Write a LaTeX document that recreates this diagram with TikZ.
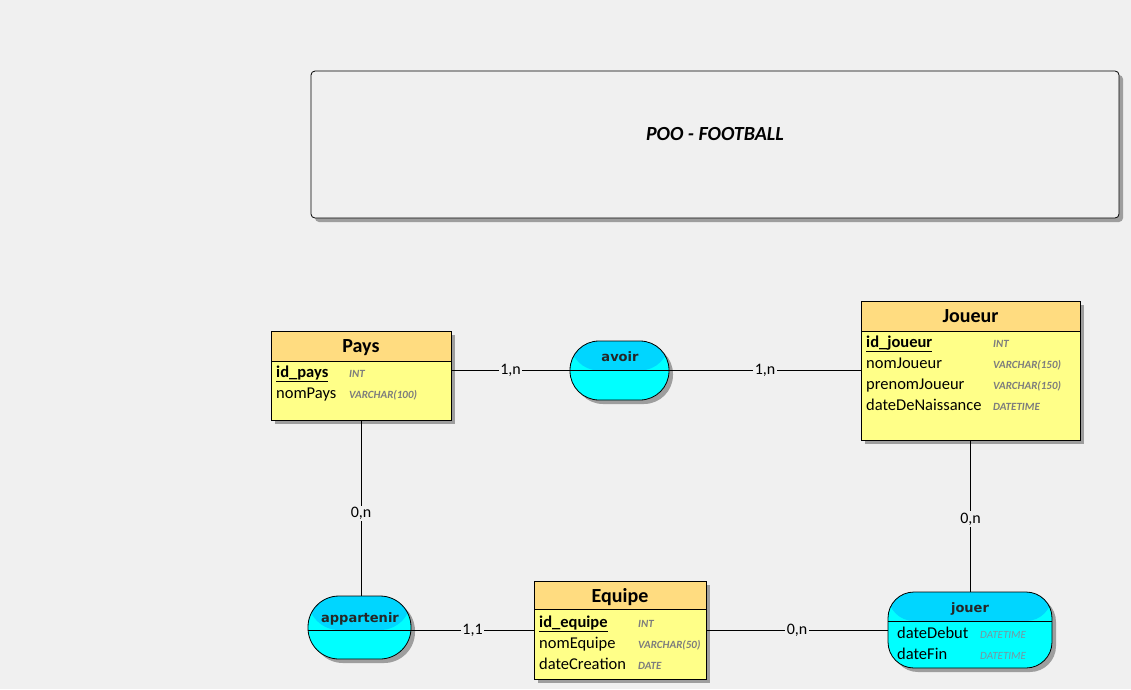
\documentclass[tikz,border=0pt]{standalone}
\usepackage{fontspec}
\setmainfont{Carlito}
\newfontfamily\assocfont{DejaVu Sans}
\usetikzlibrary{shadows}
\definecolor{fond}{RGB}{240,240,240}
\definecolor{enthead}{RGB}{255,220,128}
\definecolor{entbody}{RGB}{255,255,136}
\definecolor{assochead}{RGB}{0,214,255}
\definecolor{assocbody}{RGB}{0,255,255}
\definecolor{typegris}{RGB}{125,125,125}
\definecolor{typeclair}{RGB}{120,150,160}
\tikzset{
  ombre/.style={drop shadow={shadow xshift=4pt,shadow yshift=-4pt,fill=black!38,opacity=1}},
  entite/.style={draw, line width=0.8pt, fill=entbody, ombre, inner sep=0pt,
    path picture={
      \fill[enthead] (path picture bounding box.north west) rectangle ([yshift=-#1]path picture bounding box.north east);
      \draw[line width=0.8pt] ([yshift=-#1]path picture bounding box.north west) -- ([yshift=-#1]path picture bounding box.north east);}},
  assoc/.style={draw, line width=0.8pt, fill=assocbody, ombre, inner sep=0pt,
    path picture={
      \fill[assochead] (path picture bounding box.north west) rectangle ([yshift=#1]path picture bounding box.east);
      \draw[line width=0.8pt] ([yshift=#1]path picture bounding box.west) -- ([yshift=#1]path picture bounding box.east);}},
  entnom/.style={anchor=base, inner sep=0pt, font=\fontsize{20}{22}\selectfont\bfseries},
  assocnom/.style={anchor=base, inner sep=0pt, font=\assocfont\fontsize{13}{15}\selectfont\bfseries, text=black!85},
  attr/.style={anchor=base west, inner sep=0pt, font=\fontsize{16.5}{19}\selectfont},
  cle/.style={attr, font=\fontsize{16.5}{19}\selectfont\bfseries},
  typ/.style={anchor=base west, inner sep=0pt, text=typegris, font=\fontsize{11}{12}\selectfont\bfseries\itshape},
  typl/.style={typ, text=typeclair, font=\fontsize{11}{12}\selectfont\itshape},
  card/.style={fill=fond, inner sep=1.5pt, font=\fontsize{16}{18}\selectfont},
  lien/.style={line width=0.8pt}
}
\begin{document}
\begin{tikzpicture}[x=1pt,y=-1pt]
  \useasboundingbox[fill=fond] (0,0) rectangle (1131,689);

  % titre
  \node[draw, line width=0.8pt, rounded corners=4pt, fill=fond, ombre,
        minimum width=808pt, minimum height=147pt] (cadre) at (715,144.5) {};
  \node[anchor=base, inner sep=0pt, font=\fontsize{20}{22}\selectfont\bfseries\itshape] (titre) at (715,140) {POO - FOOTBALL};

  % entites
  \node[entite=30pt, minimum width=180pt, minimum height=89pt] (pays) at (361,375.5) {};
  \node[entnom] (paysN) at (361,352) {Pays};
  \node[cle] (paysA1) at (276,377) {\underline{id\_pays}};
  \node[attr] (paysA2) at (276,398) {nomPays};
  \node[typ] (paysT1) at (349,377) {INT};
  \node[typ] (paysT2) at (349,398) {VARCHAR(100)};

  \node[entite=30pt, minimum width=219pt, minimum height=139pt] (joueur) at (970.5,370.5) {};
  \node[entnom] (joueurN) at (970.5,322) {Joueur};
  \node[cle] (joueurA1) at (866,347) {\underline{id\_joueur}};
  \node[attr] (joueurA2) at (866,368) {nomJoueur};
  \node[attr] (joueurA3) at (866,389) {prenomJoueur};
  \node[attr] (joueurA4) at (866,410) {dateDeNaissance};
  \node[typ] (joueurT1) at (993,347) {INT};
  \node[typ] (joueurT2) at (993,368) {VARCHAR(150)};
  \node[typ] (joueurT3) at (993,389) {VARCHAR(150)};
  \node[typ] (joueurT4) at (993,410) {DATETIME};

  \node[entite=28pt, minimum width=172pt, minimum height=98pt] (equipe) at (620,630) {};
  \node[entnom] (equipeN) at (620,602) {Equipe};
  \node[cle] (equipeA1) at (539,627) {\underline{id\_equipe}};
  \node[attr] (equipeA2) at (539,648) {nomEquipe};
  \node[attr] (equipeA3) at (539,669) {dateCreation};
  \node[typ] (equipeT1) at (638,627) {INT};
  \node[typ] (equipeT2) at (638,648) {VARCHAR(50)};
  \node[typ] (equipeT3) at (638,669) {DATE};

  % associations
  \node[assoc=0pt, rounded corners=29pt, minimum width=99pt, minimum height=59pt] (avoir) at (619.5,370.5) {};
  \node[assocnom] (avoirN) at (620,361) {avoir};

  \node[assoc=-2.5pt, rounded corners=31pt, minimum width=103pt, minimum height=63pt] (appartenir) at (359.5,627.5) {};
  \node[assocnom] (appartenirN) at (360,622) {appartenir};

  \node[assoc=9pt, rounded corners=26pt, minimum width=164pt, minimum height=76pt] (jouer) at (970,630) {};
  \node[assocnom] (jouerN) at (970,612) {jouer};
  \node[attr] (jouerA1) at (897,638) {dateDebut};
  \node[attr] (jouerA2) at (897,659) {dateFin};
  \node[typl] (jouerT1) at (980,638) {DATETIME};
  \node[typl] (jouerT2) at (980,659) {DATETIME};

  % liens
  \draw[lien] (pays.east |- avoir.west) -- node[card]{1,n} (avoir.west);
  \draw[lien] (avoir.east) -- node[card]{1,n} (joueur.west |- avoir.east);
  \draw[lien] (pays.south) -- node[card, pos=0.53]{0,n} (pays.south |- appartenir.north);
  \draw[lien] (appartenir.east |- equipe.west) -- node[card]{1,1} (equipe.west);
  \draw[lien] (equipe.east) -- node[card]{0,n} (jouer.west |- equipe.east);
  \draw[lien] (joueur.south) -- node[card, pos=0.52]{0,n} (joueur.south |- jouer.north);
\end{tikzpicture}
\end{document}
